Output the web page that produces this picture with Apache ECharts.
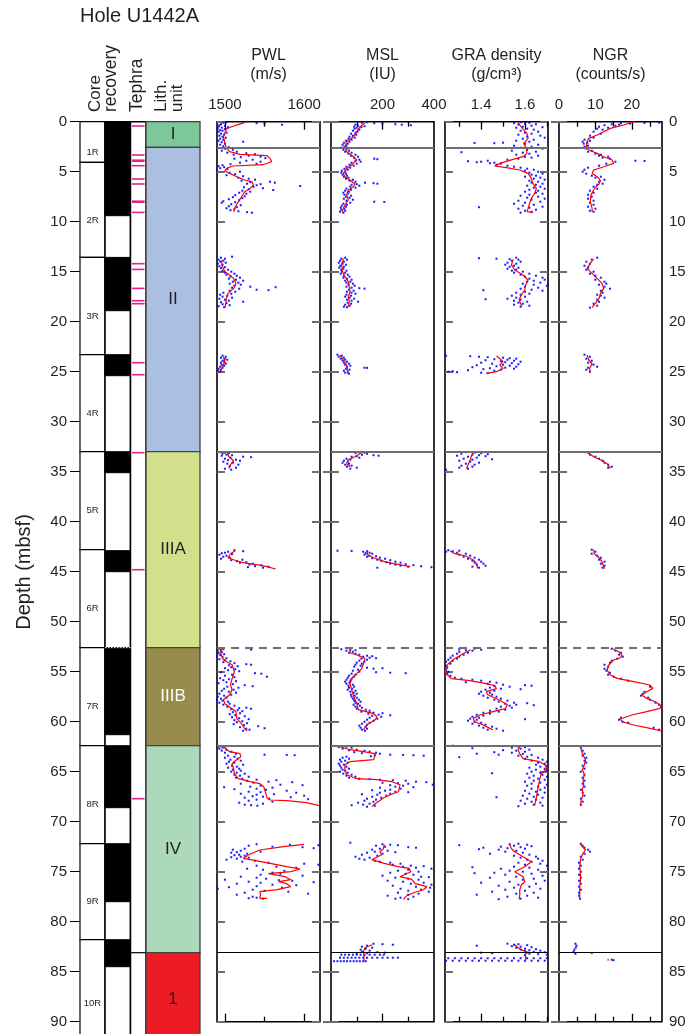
<!DOCTYPE html>
<html><head><meta charset="utf-8">
<script src="https://cdn.jsdelivr.net/npm/echarts@6/dist/echarts.min.js"></script>
<style>html,body{margin:0;padding:0;background:#fff}#c{width:700px;height:1034px}</style>
</head><body><div id="c"></div>
<script>
// ---------------- DATA ----------------
const depthTicks = [0,5,10,15,20,25,30,35,40,45,50,55,60,65,70,75,80,85,90];
const coreNames = ['1R','2R','3R','4R','5R','6R','7R','8R','9R','10R'];
const coreTop = [0,4.07,13.57,23.3,33.0,42.8,52.6,62.4,72.2,81.8];
const coreBottom = [4.07,13.57,23.3,33.0,42.8,52.6,62.4,72.2,81.8,92.5];
const recoveredTop = [0,4.07,13.57,23.3,33.0,42.9,52.6,62.4,72.2,81.8];
const recoveredBottom = [4.07,9.4,18.9,25.4,35.1,45.0,61.3,68.6,78.0,84.5];
const tephraDepths = [0.43,3.33,3.85,3.95,4.4,5.73,6.23,7.95,8.05,9.07,14.2,14.77,16.67,17.9,18.2,24.1,25.3,33.1,44.8,67.7];
const lithNames = ['I','II','IIIA','IIIB','IV','1'];
const lithTop = [0,2.57,33.0,52.6,62.4,83.1];
const lithBottom = [2.57,33.0,52.6,62.4,83.1,92.5];

const pwlLabels = [1500,1600], pwlMajor = [1500,1600], pwlMinor = [1550];
const mslLabels = [200,400], mslMajor = [200], mslMinor = [100,300];
const graLabels = [1.4,1.6], graMajor = [1.4,1.6], graMinor = [1.3,1.5,1.7];
const ngrLabels = [0,10,20], ngrMajor = [10,20], ngrMinor = [5,15,25];

// [depth, value]
const pwlLine = [
 [[0.1,1525],[0.4,1512],[0.7,1502],[1.5,1498],[2.17,1500],[2.67,1502],[3.0,1506],[3.27,1519],[3.4,1553],[3.67,1557],[4.0,1559],[4.3,1548],[4.43,1510],[4.67,1502],[4.9,1500],[5.17,1506],[5.5,1515],[5.83,1525],[6.0,1534],[6.33,1536],[6.67,1532],[7.0,1525],[7.5,1521],[8.0,1517],[8.5,1513],[9.0,1511]],
 [[13.83,1496],[14.33,1496],[15.0,1500],[15.33,1506],[15.67,1511],[16.17,1514],[16.67,1511],[17.17,1504],[17.67,1502],[18.17,1501],[18.57,1500]],
 [[23.5,1498],[24.0,1500],[24.5,1497],[24.93,1494]],
 [[33.07,1503],[33.5,1505],[33.9,1511],[34.3,1507],[34.7,1505]],
 [[42.9,1513],[43.2,1507],[43.6,1504],[43.8,1511],[44.1,1523],[44.3,1540],[44.5,1553],[44.73,1564]],
 [[52.7,1494],[53.2,1495],[53.8,1498],[54.3,1509],[55.0,1512],[55.7,1509],[56.3,1507],[56.8,1509],[57.3,1506],[57.8,1498],[58.2,1500],[58.7,1509],[59.0,1514],[59.7,1515],[60.2,1521],[60.7,1525],[60.9,1528]],
 [[62.5,1498],[63.0,1506],[63.2,1519],[63.5,1520],[63.9,1513],[64.2,1509],[64.7,1511],[65.2,1512],[65.7,1517],[66.0,1532],[66.2,1544],[66.5,1549],[67.0,1551],[67.6,1553],[67.83,1557],[67.9,1578],[68.1,1603],[68.4,1619]],
 [[72.27,1600],[72.5,1574],[72.83,1544],[73.3,1530],[73.67,1523],[73.8,1532],[74.17,1557],[74.5,1578],[74.73,1595],[75.0,1583],[75.2,1555],[75.3,1553],[75.5,1576],[75.8,1583],[76.0,1568],[76.2,1578],[76.5,1583],[76.8,1566],[77.0,1544],[77.3,1545],[77.67,1544],[77.67,1553]]
];
const pwlDots = [
 [0.05,1502],[0.1,1498],[0.15,1540],[0.2,1550],[0.25,1495],[0.3,1572],[0.35,1493],[0.4,1500],[0.5,1492],[0.55,1504],[0.6,1496],[0.7,1491],[0.75,1500],[0.85,1494],[0.9,1497],[1.0,1492],[1.1,1502],[1.2,1495],[1.3,1499],[1.4,1493],[1.5,1497],[1.6,1501],[1.7,1494],[1.8,1498],[1.9,1492],[2.0,1523],[2.05,1496],[2.2,1500],[2.3,1494],[2.45,1498],[2.55,1505],[2.7,1500],[2.8,1510],[2.9,1496],[3.0,1515],[3.1,1503],[3.15,1527],[3.25,1538],[3.3,1511],[3.4,1530],[3.5,1545],[3.55,1520],[3.65,1551],[3.7,1512],[3.8,1535],[3.9,1527],[4.0,1545],[4.1,1519],[4.2,1540],[4.25,1507],[4.35,1497],[4.45,1492],[4.55,1499],[4.65,1494],[4.75,1503],[4.85,1490],[5.0,1519],[5.1,1506],[5.25,1513],[5.35,1502],[5.45,1523],[5.6,1517],[5.7,1530],[5.8,1538],[5.9,1521],[6.0,1557],[6.05,1532],[6.1,1563],[6.2,1528],[6.25,1545],[6.35,1540],[6.43,1595],[6.5,1536],[6.55,1524],[6.65,1548],[6.75,1530],[6.83,1561],[6.9,1522],[7.0,1532],[7.1,1518],[7.2,1527],[7.35,1513],[7.45,1525],[7.55,1510],[7.65,1522],[7.75,1505],[7.85,1518],[7.95,1498],[8.05,1513],[8.1,1496],[8.25,1508],[8.35,1520],[8.45,1505],[8.55,1515],[8.65,1502],[8.75,1512],[8.85,1507],[8.95,1517],[9.05,1528],[9.1,1534],
 [13.5,1509],[13.6,1495],[13.7,1500],[13.8,1492],[13.9,1498],[14.0,1494],[14.1,1501],[14.2,1491],[14.3,1497],[14.45,1493],[14.55,1500],[14.65,1495],[14.8,1504],[14.9,1497],[15.0,1508],[15.1,1500],[15.2,1512],[15.3,1502],[15.4,1515],[15.5,1507],[15.6,1519],[15.7,1505],[15.8,1514],[15.9,1523],[16.0,1510],[16.1,1517],[16.2,1506],[16.3,1520],[16.4,1512],[16.5,1532],[16.55,1564],[16.6,1509],[16.7,1518],[16.8,1540],[16.85,1555],[16.9,1506],[17.0,1513],[17.1,1498],[17.2,1508],[17.3,1494],[17.4,1503],[17.5,1497],[17.6,1509],[17.7,1493],[17.8,1500],[17.9,1505],[18.0,1523],[18.05,1495],[18.15,1502],[18.25,1497],[18.35,1506],[18.45,1492],[18.55,1499],
 [23.4,1497],[23.5,1501],[23.6,1495],[23.7,1500],[23.8,1503],[23.9,1497],[24.0,1499],[24.1,1495],[24.2,1501],[24.3,1496],[24.4,1499],[24.5,1494],[24.6,1497],[24.7,1492],[24.8,1495],[24.9,1491],[25.0,1494],
 [33.05,1494],[33.1,1500],[33.15,1505],[33.2,1497],[33.3,1502],[33.35,1509],[33.4,1496],[33.5,1523],[33.55,1533],[33.6,1507],[33.7,1500],[33.8,1514],[33.85,1504],[33.9,1519],[34.0,1498],[34.1,1510],[34.2,1503],[34.3,1517],[34.45,1506],[34.6,1514],[34.7,1500],[34.8,1508],
 [42.85,1512],[42.95,1523],[43.0,1504],[43.1,1500],[43.15,1496],[43.25,1509],[43.3,1493],[43.4,1502],[43.5,1498],[43.6,1506],[43.7,1495],[43.8,1522],[43.85,1508],[43.95,1515],[44.05,1527],[44.1,1519],[44.2,1535],[44.3,1531],[44.35,1546],[44.45,1538],[44.5,1555],[44.55,1529],[44.6,1548],
 [52.7,1492],[52.75,1498],[52.8,1533],[52.85,1495],[52.95,1491],[53.05,1496],[53.15,1492],[53.25,1499],[53.35,1494],[53.45,1490],[53.55,1497],[53.65,1502],[53.75,1493],[53.85,1500],[53.95,1507],[54.05,1498],[54.15,1512],[54.25,1527],[54.3,1533],[54.35,1505],[54.45,1516],[54.55,1508],[54.65,1500],[54.75,1513],[54.85,1504],[54.95,1518],[55.05,1495],[55.15,1538],[55.2,1546],[55.3,1509],[55.4,1500],[55.5,1553],[55.55,1512],[55.65,1494],[55.75,1505],[55.85,1498],[55.95,1514],[56.05,1502],[56.15,1492],[56.25,1510],[56.35,1525],[56.45,1535],[56.5,1503],[56.6,1517],[56.7,1499],[56.8,1511],[56.9,1496],[57.0,1505],[57.1,1514],[57.2,1493],[57.3,1508],[57.4,1499],[57.5,1491],[57.6,1502],[57.7,1495],[57.8,1490],[57.9,1497],[58.0,1504],[58.1,1493],[58.2,1506],[58.3,1498],[58.4,1512],[58.5,1503],[58.6,1527],[58.65,1518],[58.7,1533],[58.75,1508],[58.85,1516],[58.95,1522],[59.05,1510],[59.15,1519],[59.25,1506],[59.35,1513],[59.45,1525],[59.55,1509],[59.65,1518],[59.75,1530],[59.85,1512],[59.95,1522],[60.05,1515],[60.15,1528],[60.25,1511],[60.35,1524],[60.45,1542],[60.55,1519],[60.65,1550],[60.7,1527],[60.8,1531],[60.9,1523],
 [62.45,1494],[62.5,1500],[62.55,1491],[62.6,1497],[62.7,1493],[62.8,1502],[62.9,1496],[63.0,1508],[63.1,1500],[63.2,1514],[63.3,1550],[63.32,1578],[63.35,1588],[63.4,1504],[63.5,1512],[63.6,1500],[63.7,1516],[63.8,1507],[63.9,1520],[64.0,1505],[64.1,1512],[64.2,1502],[64.3,1523],[64.4,1509],[64.5,1515],[64.6,1504],[64.7,1518],[64.8,1510],[64.9,1520],[65.0,1508],[65.1,1515],[65.2,1525],[65.3,1512],[65.4,1519],[65.5,1530],[65.6,1514],[65.7,1522],[65.8,1540],[65.85,1565],[65.9,1528],[66.0,1555],[66.05,1585],[66.1,1536],[66.2,1520],[66.3,1570],[66.35,1598],[66.4,1545],[66.5,1532],[66.55,1499],[66.6,1560],[66.7,1540],[66.75,1512],[66.8,1552],[66.9,1578],[67.0,1530],[67.05,1545],[67.1,1590],[67.2,1520],[67.25,1562],[67.3,1540],[67.4,1600],[67.45,1535],[67.5,1548],[67.55,1583],[67.6,1525],[67.7,1556],[67.75,1605],[67.8,1540],[67.9,1530],[68.0,1560],[68.1,1518],[68.2,1548],[68.3,1525],[68.35,1533],[68.4,1541],
 [72.25,1540],[72.3,1582],[72.35,1618],[72.4,1530],[72.5,1560],[72.55,1598],[72.65,1612],[72.7,1525],[72.8,1510],[72.9,1520],[73.0,1545],[73.05,1515],[73.1,1508],[73.2,1528],[73.3,1518],[73.35,1512],[73.4,1525],[73.5,1520],[73.55,1508],[73.6,1530],[73.7,1515],[73.8,1502],[73.9,1538],[74.0,1522],[74.1,1555],[74.2,1600],[74.3,1618],[74.4,1540],[74.5,1565],[74.6,1590],[74.7,1528],[74.8,1548],[74.9,1575],[75.1,1560],[75.2,1570],[75.3,1545],[75.4,1598],[75.5,1520],[75.6,1540],[75.7,1552],[75.8,1500],[75.85,1568],[75.9,1585],[76.0,1530],[76.05,1612],[76.1,1545],[76.2,1515],[76.3,1560],[76.35,1590],[76.45,1540],[76.55,1505],[76.6,1572],[76.7,1491],[76.8,1535],[76.9,1550],[77.0,1580],[77.1,1525],[77.2,1605],[77.3,1515],[77.5,1535],[77.6,1540],[77.65,1530],[77.7,1548]
];

const mslLine = [
 [[0.1,132],[0.5,113],[1.0,100],[1.5,87],[2.0,61],[2.5,54],[3.0,61],[3.5,87],[3.83,100],[4.17,87],[4.67,61],[5.17,48],[5.5,54],[5.83,74],[6.23,93],[6.5,87],[6.83,67],[7.33,61],[7.83,67],[8.33,54],[8.83,45],[9.1,45]],
 [[13.67,48],[14.33,41],[15.0,45],[15.5,54],[16.0,67],[16.5,71],[17.0,74],[17.5,67],[18.0,71],[18.5,67]],
 [[23.33,35],[23.83,48],[24.33,61],[24.83,64],[25.2,65]],
 [[33.07,119],[33.5,93],[33.8,67],[34.2,61],[34.5,74]],
 [[42.97,140],[43.3,142],[43.6,166],[43.97,205],[44.2,244],[44.5,307]],
 [[52.8,74],[53.1,74],[53.33,100],[53.67,132],[54.2,126],[54.7,119],[55.2,100],[55.7,80],[56.2,74],[56.8,80],[57.5,89],[58.2,100],[58.8,106],[59.2,166],[59.5,178],[59.8,172],[60.3,140],[60.8,126]],
 [[62.5,35],[62.8,74],[63.0,126],[63.2,172],[63.8,166],[64.0,74],[64.3,54],[64.8,54],[65.3,61],[65.7,100],[65.8,178],[66.0,236],[66.3,268],[67.0,262],[67.3,230],[67.6,205],[68.3,166],[68.5,159]],
 [[72.27,207],[72.7,203],[73.0,190],[73.3,197],[73.8,158],[74.17,207],[74.5,259],[74.67,304],[75.0,310],[75.5,268],[75.77,314],[76.2,327],[76.5,372],[76.8,359],[77.1,320],[77.4,294],[77.8,281]],
 [[82.3,159],[82.6,132],[82.97,126],[83.3,128],[83.63,128],[84.0,128]]
];
const mslDots = [
 [0.05,140],[0.1,120],[0.15,168],[0.2,200],[0.25,250],[0.3,275],[0.35,310],[0.3,95],[0.4,105],[0.45,130],[0.5,90],[0.55,118],[0.6,100],[0.7,92],[0.8,110],[0.9,85],[1.0,103],[1.1,95],[1.2,78],[1.3,98],[1.4,85],[1.5,72],[1.6,92],[1.7,68],[1.8,80],[1.9,58],[2.0,72],[2.1,50],[2.2,65],[2.3,45],[2.4,60],[2.5,52],[2.6,40],[2.7,62],[2.8,48],[2.9,70],[3.0,55],[3.1,80],[3.2,68],[3.3,95],[3.4,78],[3.5,105],[3.6,90],[3.7,168],[3.75,180],[3.8,110],[3.9,95],[4.0,115],[4.1,80],[4.2,100],[4.3,72],[4.4,88],[4.5,60],[4.6,75],[4.7,52],[4.8,65],[4.9,42],[5.0,55],[5.1,40],[5.2,58],[5.3,45],[5.4,62],[5.5,50],[5.6,68],[5.7,58],[5.8,85],[5.9,72],[6.0,95],[6.1,132],[6.15,165],[6.2,180],[6.25,100],[6.3,80],[6.4,110],[6.5,75],[6.6,95],[6.7,60],[6.8,78],[6.9,55],[7.0,70],[7.1,48],[7.2,65],[7.3,52],[7.4,78],[7.5,58],[7.6,72],[7.7,50],[7.8,85],[7.9,60],[8.0,168],[8.02,207],[8.1,75],[8.2,48],[8.3,62],[8.4,42],[8.5,58],[8.6,38],[8.7,52],[8.8,40],[8.9,55],[9.0,35],[9.1,48],
 [13.6,55],[13.7,40],[13.8,62],[13.9,35],[14.0,50],[14.1,30],[14.2,45],[14.3,58],[14.4,36],[14.5,50],[14.6,32],[14.7,48],[14.8,40],[14.9,60],[15.0,42],[15.1,55],[15.2,38],[15.3,65],[15.4,50],[15.5,72],[15.6,48],[15.7,62],[15.8,80],[15.9,55],[16.0,75],[16.1,60],[16.2,85],[16.3,68],[16.4,92],[16.5,60],[16.6,80],[16.65,110],[16.7,130],[16.8,70],[16.9,88],[17.0,62],[17.1,80],[17.2,95],[17.3,60],[17.4,78],[17.5,55],[17.6,72],[17.7,90],[17.8,62],[17.9,80],[18.0,105],[18.1,65],[18.2,78],[18.3,55],[18.4,72],[18.5,50],[18.55,62],
 [23.3,25],[23.4,42],[23.5,30],[23.6,50],[23.7,38],[23.8,55],[23.9,45],[24.0,62],[24.1,50],[24.2,70],[24.3,55],[24.4,75],[24.5,62],[24.6,130],[24.62,140],[24.7,58],[24.8,72],[24.9,50],[25.0,65],[25.1,55],[25.2,70],
 [33.05,110],[33.1,130],[33.15,95],[33.2,140],[33.3,120],[33.35,165],[33.4,185],[33.45,100],[33.5,80],[33.6,110],[33.7,60],[33.8,75],[33.9,50],[34.0,65],[34.1,45],[34.2,70],[34.3,55],[34.4,80],[34.5,62],[34.6,100],[34.7,75],
 [42.9,25],[42.92,80],[42.95,140],[43.0,125],[43.1,150],[43.15,135],[43.2,160],[43.3,130],[43.4,148],[43.45,175],[43.5,140],[43.6,190],[43.65,160],[43.7,210],[43.8,180],[43.85,230],[43.9,195],[44.0,250],[44.05,215],[44.1,270],[44.2,230],[44.25,290],[44.3,250],[44.35,320],[44.4,270],[44.45,350],[44.5,300],[44.55,390],[44.6,180],
 [52.75,40],[52.8,75],[52.85,95],[52.9,60],[53.0,85],[53.1,70],[53.2,95],[53.3,110],[53.4,140],[53.45,160],[53.5,125],[53.6,150],[53.65,175],[53.7,118],[53.8,140],[53.9,110],[54.0,130],[54.1,100],[54.2,120],[54.3,95],[54.4,115],[54.5,90],[54.6,140],[54.65,200],[54.7,165],[54.8,105],[54.9,85],[55.0,110],[55.05,175],[55.1,230],[55.15,290],[55.2,80],[55.3,95],[55.4,70],[55.5,88],[55.6,65],[55.7,80],[55.8,60],[55.9,75],[56.0,55],[56.1,72],[56.2,60],[56.3,85],[56.4,68],[56.5,90],[56.6,70],[56.7,82],[56.8,65],[56.9,95],[57.0,75],[57.1,88],[57.2,100],[57.3,78],[57.4,92],[57.5,80],[57.6,100],[57.7,85],[57.8,108],[57.9,90],[58.0,115],[58.1,95],[58.2,105],[58.3,88],[58.4,112],[58.5,95],[58.6,120],[58.7,100],[58.8,135],[58.9,150],[59.0,118],[59.1,165],[59.15,200],[59.2,145],[59.3,185],[59.35,230],[59.4,160],[59.5,195],[59.6,150],[59.7,180],[59.8,140],[59.9,165],[60.0,130],[60.1,150],[60.2,120],[60.3,140],[60.4,110],[60.5,135],[60.6,115],[60.7,140],[60.8,120],[60.9,132],
 [62.45,40],[62.5,60],[62.55,30],[62.6,80],[62.7,45],[62.8,100],[62.85,70],[62.9,130],[63.0,150],[63.05,90],[63.1,175],[63.15,120],[63.2,190],[63.3,230],[63.32,280],[63.35,320],[63.4,360],[63.37,170],[63.45,155],[63.5,60],[63.6,45],[63.7,70],[63.8,35],[63.9,55],[64.0,40],[64.1,65],[64.2,30],[64.3,50],[64.4,35],[64.5,60],[64.6,40],[64.7,70],[64.8,45],[64.9,55],[65.0,35],[65.1,65],[65.2,48],[65.3,80],[65.4,60],[65.5,95],[65.6,70],[65.7,110],[65.75,150],[65.8,190],[65.85,240],[65.9,290],[66.0,330],[66.05,370],[66.1,200],[66.15,260],[66.2,300],[66.3,395],[66.35,230],[66.4,280],[66.5,250],[66.55,320],[66.6,190],[66.7,270],[66.8,230],[66.85,160],[66.9,210],[67.0,250],[67.05,300],[67.1,190],[67.2,230],[67.25,120],[67.3,180],[67.4,215],[67.5,160],[67.6,195],[67.7,140],[67.8,175],[67.9,130],[68.0,165],[68.1,105],[68.2,150],[68.3,125],[68.35,80],[68.4,170],[68.5,140],
 [72.1,75],[72.25,200],[72.3,230],[72.35,260],[72.4,175],[72.5,210],[72.55,300],[72.6,330],[72.7,190],[72.8,160],[72.9,220],[73.0,170],[73.05,250],[73.1,140],[73.2,200],[73.3,120],[73.4,180],[73.5,95],[73.6,150],[73.7,110],[73.8,130],[73.9,170],[74.0,190],[74.1,230],[74.2,270],[74.3,240],[74.4,310],[74.45,360],[74.5,280],[74.6,330],[74.7,390],[74.8,300],[74.9,260],[75.0,340],[75.1,230],[75.2,290],[75.3,320],[75.4,200],[75.5,350],[75.55,380],[75.6,250],[75.7,300],[75.8,340],[75.9,220],[76.0,280],[76.1,360],[76.2,310],[76.3,390],[76.4,240],[76.5,330],[76.6,385],[76.7,270],[76.8,350],[76.9,300],[77.0,380],[77.1,260],[77.2,340],[77.3,300],[77.4,220],[77.5,320],[77.6,270],[77.7,250],[77.75,300],
 [82.2,165],[82.25,200],[82.3,240],[82.4,140],[82.5,120],[82.6,160],[82.7,135],[82.8,115],[82.9,150],[83.0,120],[83.05,180],[83.1,210],[83.15,140],[83.2,100],
 [83.3,40],[83.3,55],[83.3,70],[83.3,85],[83.3,100],[83.3,115],[83.3,130],[83.3,150],[83.3,170],[83.3,190],[83.3,205],
 [83.6,35],[83.6,50],[83.6,65],[83.6,80],[83.6,95],[83.6,110],[83.6,125],[83.6,140],[83.6,160],[83.6,180],[83.6,200],[83.6,220],[83.6,240],[83.6,260],
 [83.95,12],[83.95,25],[83.95,38],[83.95,50],[83.95,62],[83.95,75],[83.95,88],[83.95,100],[83.95,112],[83.95,125],[83.95,135]
];

const graLine = [
 [[0.1,1.568],[0.67,1.588],[1.17,1.609],[1.67,1.614],[2.17,1.594],[2.67,1.606],[3.17,1.609],[3.5,1.591],[3.77,1.546],[4.17,1.485],[4.43,1.462],[4.6,1.515],[4.83,1.576],[5.17,1.614],[5.67,1.629],[6.17,1.636],[6.67,1.652],[7.17,1.644],[7.67,1.629],[8.17,1.621],[8.67,1.614],[9.0,1.609],[9.1,1.636]],
 [[13.77,1.546],[14.33,1.538],[14.83,1.553],[15.33,1.591],[15.83,1.614],[16.33,1.603],[16.83,1.599],[17.33,1.583],[17.83,1.573],[18.33,1.583],[18.5,1.585]],
 [[23.43,1.47],[23.67,1.485],[24.0,1.50],[24.33,1.485],[24.67,1.50],[25.0,1.47],[25.17,1.424]],
 [[33.1,1.364],[33.4,1.356],[33.8,1.35],[34.3,1.34],[34.7,1.333]],
 [[42.93,1.258],[43.2,1.28],[43.43,1.33],[43.83,1.364],[44.2,1.38],[44.67,1.383]],
 [[52.8,1.351],[53.2,1.318],[53.67,1.28],[54.2,1.25],[54.7,1.237],[55.2,1.24],[55.7,1.265],[55.9,1.348],[56.2,1.424],[56.4,1.462],[56.7,1.47],[57.0,1.424],[57.3,1.43],[57.8,1.48],[58.3,1.52],[58.7,1.51],[59.0,1.454],[59.33,1.394],[59.67,1.364],[60.0,1.37],[60.33,1.41],[60.67,1.44],[60.8,1.454]],
 [[62.5,1.576],[62.8,1.568],[63.2,1.576],[63.7,1.591],[64.0,1.667],[64.3,1.69],[64.7,1.70],[65.2,1.674],[65.8,1.667],[66.5,1.66],[67.2,1.655],[67.8,1.65],[68.4,1.644]],
 [[72.27,1.53],[72.7,1.538],[73.0,1.553],[73.5,1.591],[74.0,1.629],[74.5,1.599],[75.0,1.553],[75.2,1.561],[75.5,1.591],[76.0,1.599],[76.33,1.583],[76.83,1.576],[77.33,1.576],[77.77,1.573]],
 [[82.3,1.553],[82.6,1.568],[82.97,1.599],[83.1,1.621],[83.15,1.603],[83.63,1.603],[84.0,1.603]]
];
const graDots = [
 [0.05,1.58],[0.1,1.62],[0.15,1.55],[0.2,1.60],[0.25,1.65],[0.3,1.57],[0.4,1.63],[0.5,1.59],[0.55,1.68],[0.6,1.56],[0.7,1.61],[0.8,1.64],[0.9,1.58],[1.0,1.66],[1.1,1.60],[1.2,1.63],[1.3,1.57],[1.4,1.67],[1.5,1.61],[1.6,1.69],[1.7,1.59],[1.8,1.64],[1.9,1.56],[2.0,1.62],[2.1,1.50],[2.12,1.37],[2.15,1.46],[2.2,1.60],[2.3,1.66],[2.4,1.55],[2.5,1.63],[2.6,1.58],[2.7,1.68],[2.8,1.61],[2.9,1.54],[3.0,1.65],[3.05,1.31],[3.1,1.59],[3.2,1.62],[3.3,1.56],[3.4,1.66],[3.5,1.60],[3.6,1.63],[3.7,1.57],[3.8,1.52],[3.9,1.43],[3.95,1.34],[4.0,1.40],[4.05,1.38],[4.1,1.46],[4.15,1.44],[4.2,1.49],[4.3,1.47],[4.4,1.52],[4.5,1.55],[4.6,1.58],[4.7,1.61],[4.8,1.64],[4.9,1.60],[5.0,1.66],[5.1,1.62],[5.2,1.68],[5.3,1.63],[5.4,1.65],[5.5,1.60],[5.6,1.67],[5.7,1.64],[5.8,1.69],[5.9,1.62],[6.0,1.66],[6.1,1.63],[6.2,1.68],[6.3,1.65],[6.4,1.61],[6.5,1.67],[6.6,1.64],[6.7,1.69],[6.8,1.62],[6.9,1.66],[7.0,1.60],[7.1,1.65],[7.2,1.68],[7.3,1.62],[7.4,1.58],[7.5,1.66],[7.6,1.61],[7.7,1.69],[7.8,1.63],[7.9,1.57],[8.0,1.67],[8.1,1.60],[8.2,1.55],[8.3,1.64],[8.4,1.59],[8.5,1.68],[8.55,1.39],[8.6,1.62],[8.7,1.57],[8.8,1.65],[8.9,1.60],[9.0,1.63],[9.1,1.58],
 [13.6,1.56],[13.65,1.39],[13.7,1.47],[13.75,1.53],[13.8,1.57],[13.9,1.54],[14.0,1.58],[14.1,1.52],[14.2,1.56],[14.3,1.51],[14.4,1.55],[14.5,1.53],[14.6,1.57],[14.7,1.52],[14.8,1.56],[14.9,1.54],[15.0,1.59],[15.1,1.55],[15.2,1.62],[15.3,1.58],[15.4,1.65],[15.5,1.60],[15.6,1.68],[15.7,1.62],[15.8,1.69],[15.9,1.64],[16.0,1.61],[16.1,1.67],[16.2,1.59],[16.3,1.64],[16.4,1.70],[16.5,1.60],[16.6,1.66],[16.7,1.58],[16.8,1.63],[16.85,1.41],[16.9,1.68],[17.0,1.60],[17.1,1.56],[17.2,1.62],[17.3,1.58],[17.4,1.54],[17.5,1.60],[17.6,1.56],[17.7,1.52],[17.75,1.42],[17.8,1.58],[17.9,1.55],[18.0,1.61],[18.1,1.57],[18.2,1.59],[18.3,1.55],[18.4,1.62],[18.5,1.58],
 [23.4,1.24],[23.45,1.35],[23.5,1.39],[23.55,1.43],[23.6,1.50],[23.65,1.53],[23.7,1.56],[23.75,1.46],[23.8,1.52],[23.85,1.42],[23.9,1.55],[23.95,1.49],[24.0,1.58],[24.05,1.51],[24.1,1.40],[24.15,1.54],[24.2,1.45],[24.25,1.57],[24.3,1.50],[24.35,1.38],[24.4,1.53],[24.45,1.47],[24.5,1.56],[24.55,1.36],[24.6,1.51],[24.65,1.44],[24.7,1.55],[24.75,1.41],[24.8,1.49],[24.85,1.34],[24.9,1.46],[24.95,1.27],[25.0,1.25],[25.05,1.29],[25.1,1.40],[25.15,1.43],
 [33.05,1.33],[33.1,1.37],[33.15,1.40],[33.2,1.31],[33.25,1.43],[33.3,1.36],[33.35,1.39],[33.4,1.29],[33.45,1.42],[33.5,1.34],[33.6,1.38],[33.7,1.32],[33.75,1.45],[33.8,1.36],[33.9,1.30],[34.0,1.35],[34.1,1.39],[34.2,1.33],[34.3,1.37],[34.4,1.31],[34.5,1.36],[34.6,1.30],[34.7,1.34],[34.8,1.24],
 [42.85,1.25],[42.9,1.30],[42.95,1.27],[43.0,1.24],[43.1,1.29],[43.2,1.33],[43.3,1.30],[43.4,1.35],[43.5,1.32],[43.6,1.37],[43.7,1.34],[43.8,1.39],[43.9,1.36],[44.0,1.40],[44.1,1.37],[44.2,1.41],[44.3,1.38],[44.4,1.42],[44.5,1.36],[44.6,1.39],
 [52.7,1.37],[52.75,1.30],[52.8,1.40],[52.85,1.33],[52.9,1.36],[53.0,1.30],[53.1,1.34],[53.2,1.29],[53.3,1.32],[53.4,1.27],[53.5,1.30],[53.6,1.26],[53.7,1.29],[53.8,1.25],[53.9,1.27],[54.0,1.24],[54.2,1.26],[54.4,1.24],[54.6,1.245],[54.8,1.24],[55.0,1.25],[55.2,1.245],[55.4,1.26],[55.6,1.28],[55.7,1.31],[55.8,1.36],[55.9,1.40],[56.0,1.44],[56.05,1.33],[56.1,1.47],[56.2,1.43],[56.3,1.50],[56.35,1.60],[56.4,1.63],[56.45,1.46],[56.5,1.53],[56.6,1.44],[56.7,1.49],[56.75,1.58],[56.8,1.42],[56.9,1.46],[57.0,1.40],[57.1,1.44],[57.2,1.39],[57.3,1.45],[57.4,1.41],[57.5,1.47],[57.6,1.43],[57.7,1.49],[57.8,1.46],[57.9,1.52],[58.0,1.48],[58.1,1.55],[58.15,1.61],[58.2,1.51],[58.3,1.56],[58.35,1.64],[58.4,1.53],[58.5,1.49],[58.6,1.54],[58.7,1.47],[58.8,1.51],[58.9,1.44],[59.0,1.48],[59.1,1.41],[59.2,1.44],[59.3,1.38],[59.4,1.41],[59.5,1.36],[59.6,1.39],[59.7,1.35],[59.75,1.60],[59.8,1.38],[59.9,1.34],[60.0,1.37],[60.1,1.40],[60.2,1.36],[60.3,1.42],[60.4,1.39],[60.5,1.45],[60.6,1.41],[60.7,1.47],[60.8,1.43],[60.9,1.50],
 [62.4,1.27],[62.45,1.42],[62.5,1.57],[62.55,1.60],[62.6,1.54],[62.65,1.36],[62.7,1.58],[62.8,1.62],[62.85,1.50],[62.9,1.56],[63.0,1.60],[63.05,1.46],[63.1,1.54],[63.2,1.38],[63.22,1.59],[63.3,1.48],[63.32,1.63],[63.4,1.57],[63.5,1.61],[63.55,1.30],[63.6,1.66],[63.7,1.60],[63.8,1.68],[63.9,1.63],[64.0,1.70],[64.1,1.66],[64.2,1.69],[64.3,1.65],[64.4,1.70],[64.5,1.67],[64.6,1.62],[64.7,1.69],[64.8,1.65],[64.9,1.70],[65.0,1.63],[65.1,1.67],[65.15,1.45],[65.2,1.61],[65.3,1.68],[65.4,1.64],[65.5,1.70],[65.6,1.62],[65.7,1.66],[65.8,1.69],[65.9,1.64],[66.0,1.60],[66.1,1.67],[66.2,1.63],[66.3,1.70],[66.4,1.61],[66.5,1.66],[66.6,1.69],[66.7,1.63],[66.8,1.67],[66.9,1.60],[67.0,1.65],[67.1,1.69],[67.2,1.62],[67.3,1.66],[67.4,1.59],[67.5,1.64],[67.55,1.47],[67.6,1.68],[67.7,1.61],[67.8,1.65],[67.9,1.58],[68.0,1.63],[68.1,1.67],[68.2,1.60],[68.3,1.64],[68.4,1.68],[68.45,1.57],
 [72.2,1.57],[72.25,1.53],[72.3,1.61],[72.35,1.30],[72.4,1.55],[72.45,1.63],[72.5,1.49],[72.55,1.58],[72.6,1.41],[72.65,1.52],[72.7,1.60],[72.75,1.39],[72.8,1.48],[72.9,1.56],[73.0,1.51],[73.1,1.59],[73.2,1.44],[73.3,1.62],[73.4,1.55],[73.5,1.65],[73.6,1.58],[73.7,1.66],[73.8,1.61],[73.9,1.68],[74.0,1.63],[74.1,1.57],[74.2,1.67],[74.3,1.60],[74.4,1.70],[74.5,1.55],[74.55,1.36],[74.6,1.62],[74.7,1.49],[74.8,1.66],[74.9,1.53],[75.0,1.59],[75.1,1.46],[75.15,1.37],[75.2,1.63],[75.3,1.51],[75.4,1.68],[75.5,1.56],[75.6,1.44],[75.7,1.64],[75.8,1.59],[75.9,1.69],[76.0,1.53],[76.1,1.40],[76.2,1.65],[76.3,1.57],[76.4,1.48],[76.5,1.62],[76.6,1.55],[76.7,1.67],[76.8,1.51],[76.9,1.60],[77.0,1.45],[77.1,1.64],[77.2,1.56],[77.3,1.38],[77.4,1.61],[77.5,1.52],[77.6,1.66],[77.7,1.58],[77.75,1.48],
 [82.2,1.52],[82.25,1.57],[82.3,1.55],[82.35,1.61],[82.4,1.38],[82.45,1.54],[82.5,1.58],[82.55,1.63],[82.6,1.56],[82.7,1.60],[82.75,1.65],[82.8,1.58],[82.85,1.62],[82.9,1.67],[82.95,1.60],[83.0,1.64],[83.05,1.69],[83.1,1.40],[83.15,1.45],[83.2,1.62],[83.25,1.66],[83.3,1.70],[83.35,1.60],
 [83.65,1.25],[83.65,1.28],[83.65,1.31],[83.65,1.34],[83.65,1.37],[83.65,1.40],[83.65,1.43],[83.65,1.46],[83.65,1.49],[83.65,1.52],[83.65,1.55],[83.65,1.58],[83.65,1.61],[83.65,1.64],[83.65,1.67],[83.65,1.70],
 [83.9,1.24],[83.9,1.27],[83.9,1.30],[83.9,1.33],[83.9,1.36],[83.9,1.39],[83.9,1.42],[83.9,1.45],[83.9,1.48],[83.9,1.51],[83.9,1.54],[83.9,1.57],[83.9,1.60],[83.9,1.63],[83.9,1.66],[83.9,1.69]
];

const ngrLine = [
 [[0.0,20.8],[0.1,20.45],[0.33,17.7],[0.67,14.1],[1.0,12.3],[1.33,10.5],[1.67,8.2],[2.0,7.7],[2.5,7.5],[2.83,8.2],[3.17,10.5],[3.5,12.3],[3.83,14.6],[4.17,15.0],[4.5,12.3],[4.83,9.5],[5.17,9.1],[5.5,10.5],[5.9,11.4],[6.23,11.0],[6.57,10.0],[6.83,9.5],[7.33,8.8],[8.0,8.6],[8.67,9.1],[9.0,9.1]],
 [[13.73,9.5],[14.17,8.6],[14.67,7.7],[15.17,9.1],[15.67,10.5],[16.17,11.8],[16.67,12.3],[17.17,11.4],[17.67,11.0],[18.17,10.0],[18.57,9.1]],
 [[23.33,7.7],[23.83,8.2],[24.23,9.1],[24.67,8.4],[25.1,8.6]],
 [[33.0,7.7],[33.5,9.5],[33.8,11.4],[34.2,13.2],[34.65,14.1]],
 [[42.8,9.5],[43.2,9.7],[43.6,11.0],[44.0,11.8],[44.5,12.3],[44.7,12.5]],
 [[52.7,14.8],[53.0,16.4],[53.3,17.3],[53.6,16.9],[53.83,15.0],[54.33,13.7],[54.83,13.2],[55.33,14.1],[55.67,16.0],[56.0,20.5],[56.33,25.0],[56.67,25.8],[57.0,24.1],[57.33,22.7],[57.67,24.1],[58.0,26.4],[58.43,28.2],[58.67,27.7],[59.0,24.1],[59.33,20.0],[59.73,16.9],[60.0,17.3],[60.33,20.5],[60.67,25.0],[60.93,28.2]],
 [[62.5,5.9],[63.2,6.4],[63.8,7.3],[64.3,7.0],[64.8,6.4],[65.3,7.0],[65.8,6.6],[66.3,6.8],[66.8,6.4],[67.3,6.6],[67.8,6.1],[68.4,5.9]],
 [[72.2,5.9],[72.5,6.4],[72.8,7.3],[73.3,6.4],[73.8,5.9],[74.5,5.7],[75.2,5.9],[75.8,5.9],[76.5,5.7],[77.2,5.7],[77.77,5.7]],
 [[83.7,13.5],[83.9,13.5]]
];
const ngrDots = [
 [0.05,20.0],[0.1,27.5],[0.12,23.5],[0.15,17.0],[0.2,19.5],[0.25,14.5],[0.3,16.5],[0.35,12.5],[0.4,15.5],[0.5,11.0],[0.6,13.5],[0.7,10.5],[0.8,12.0],[1.0,9.5],[1.2,11.5],[1.4,8.5],[1.6,9.5],[1.8,7.0],[1.9,8.5],[2.0,6.5],[2.1,7.8],[2.2,6.8],[2.4,8.0],[2.5,7.0],[2.7,7.5],[2.9,9.0],[3.0,8.0],[3.2,10.0],[3.3,11.5],[3.4,11.0],[3.5,13.5],[3.6,12.0],[3.7,14.0],[3.9,21.0],[3.92,23.5],[4.0,15.5],[4.2,13.0],[4.4,11.0],[4.6,8.0],[4.8,7.0],[5.0,6.5],[5.2,7.5],[5.4,9.0],[5.5,11.5],[5.6,10.0],[5.8,12.5],[6.0,11.0],[6.2,12.0],[6.3,10.5],[6.5,9.5],[6.7,10.5],[6.9,8.5],[7.1,9.5],[7.3,8.0],[7.5,9.0],[7.7,8.0],[7.9,9.5],[8.1,8.5],[8.3,9.5],[8.5,8.0],[8.7,10.0],[8.9,8.5],[9.0,9.5],
 [13.6,10.5],[13.8,9.0],[14.0,7.5],[14.2,8.5],[14.4,7.0],[14.6,8.0],[14.8,7.5],[15.0,9.5],[15.2,8.5],[15.4,10.0],[15.6,11.5],[15.8,10.0],[16.0,12.5],[16.2,13.0],[16.3,11.0],[16.5,12.5],[16.7,14.0],[16.9,11.5],[17.1,12.0],[17.3,10.5],[17.4,11.5],[17.6,12.5],[17.8,10.5],[18.0,11.0],[18.2,9.5],[18.4,10.5],[18.6,8.5],
 [23.3,7.0],[23.5,8.5],[23.7,7.5],[23.9,9.0],[24.1,8.0],[24.3,9.5],[24.5,10.5],[24.6,8.0],[24.8,7.5],[25.0,8.5],
 [33.05,7.0],[33.1,8.0],[33.3,8.5],[33.5,10.0],[33.7,11.0],[33.9,12.0],[34.1,12.5],[34.3,13.5],[34.5,14.5],[34.6,13.5],
 [42.8,9.0],[43.0,10.0],[43.2,9.0],[43.4,10.5],[43.6,11.5],[43.8,11.0],[44.0,12.5],[44.2,11.5],[44.4,12.5],[44.6,12.0],
 [52.7,14.5],[52.9,15.5],[53.1,17.0],[53.3,16.5],[53.5,17.5],[53.7,16.0],[53.9,14.5],[54.1,14.0],[54.3,12.5],[54.5,13.5],[54.7,12.5],[54.9,13.0],[55.1,14.0],[55.3,13.5],[55.5,15.0],[55.7,17.0],[55.9,19.0],[56.5,25.0],[57.0,23.5],[57.2,23.0],[57.4,22.5],[57.6,24.5],[57.8,25.0],[58.1,26.5],[58.3,27.5],[58.5,28.0],[59.6,17.0],[59.8,16.5],[60.0,17.5],[60.1,19.0],[60.6,26.0],[60.8,27.5],
 [62.6,6.0],[62.9,6.5],[63.2,7.0],[63.4,6.5],[63.6,7.5],[63.9,7.0],[64.1,7.5],[64.4,6.5],[64.7,7.0],[65.0,6.0],[65.3,7.0],[65.6,6.5],[65.9,7.0],[66.2,6.5],[66.5,7.0],[66.8,6.0],[67.1,6.5],[67.4,7.0],[67.7,6.0],[68.0,6.5],[68.3,6.0],
 [72.2,6.0],[72.4,6.5],[72.6,7.0],[72.8,8.0],[73.0,8.5],[73.2,7.0],[73.5,6.0],[73.8,6.5],[74.1,5.5],[74.4,6.0],[74.7,5.5],[75.0,6.0],[75.3,5.5],[75.6,6.0],[75.9,5.5],[76.2,6.0],[76.5,5.5],[76.8,6.0],[77.1,5.5],[77.4,5.5],[77.7,5.8],
 [82.2,4.5],[82.4,4.8],[82.6,4.6],[82.8,4.2],[83.0,4.0],[83.2,4.5],[83.12,9.0],[83.8,14.5],[83.85,15.0]
];

// ---------------- STYLE / LAYOUT ----------------
const FONT = "'Liberation Sans', Arial, Helvetica, sans-serif";
const TXT = '#231f20';
const TOP = 121.7;
const PX_PER_M = 10;
const COL_H = 1034 - TOP;              // left columns run to the bottom edge
const COL_MAX = COL_H / PX_PER_M;      // same depth scale as the data panels
const lithColors = ['#7dc89b','#abbfe1','#d3e08b','#978c4e','#acd9b9','#ed1c24'];
const lithTextColors = [TXT,TXT,TXT,'#ffffff',TXT,TXT];
const colGrids = [[80,25],[105,25.5],[130.5,15.5],[146,54]];
const panelLeft = [217,331,445,559];
const PW = 103;
const plain = v => String(v);

const grid = [], xAxis = [], yAxis = [], series = [];
colGrids.forEach(([l,w],i)=>{
  grid.push({left:l, top:TOP, width:w, height:COL_H});
  xAxis.push({gridIndex:i, type:'value', min:0, max:1, show:false});
  yAxis.push({gridIndex:i, type:'value', inverse:true, min:0, max:COL_MAX, show:false});
});
yAxis[0] = {gridIndex:0, type:'value', inverse:true, min:0, max:COL_MAX, position:'left', show:true,
  axisLine:{show:false}, splitLine:{show:false},
  axisTick:{show:true, length:10, customValues:depthTicks, lineStyle:{color:'#000', width:1}},
  axisLabel:{customValues:depthTicks, fontSize:15, margin:13, color:TXT, fontFamily:FONT, formatter:plain}};

function rectShape(api, top, bottom){
  const p0 = api.coord([0, top]), p1 = api.coord([1, bottom]);
  return {x:p0[0], y:p0[1], width:p1[0]-p0[0], height:p1[1]-p0[1]};
}
function txt(x,y,text,size,color){
  return {type:'text', x:x, y:y, style:{text:text, fill:color, font:size+'px '+FONT,
    textAlign:'center', textVerticalAlign:'middle', align:'center', verticalAlign:'middle'}};
}
// core column
series.push({type:'custom', xAxisIndex:0, yAxisIndex:0, silent:true, clip:false,
  encode:{x:0, y:[1,2]},
  data: coreNames.map((n,i)=>[0, coreTop[i], coreBottom[i], i]),
  renderItem:(params, api)=>{
    const s = rectShape(api, api.value(1), api.value(2));
    const i = api.value(3);
    const mid = (coreTop[i]+coreBottom[i])/2;
    const c = api.coord([0.5, mid]);
    return {type:'group', children:[
      {type:'rect', shape:s, style:{fill:'#fff', stroke:'#000', lineWidth:1.2}},
      txt(c[0], c[1]+10, coreNames[i], 9.5, TXT)
    ]};
  }});
// recovery column
series.push({type:'custom', xAxisIndex:1, yAxisIndex:1, silent:true, clip:false,
  encode:{x:0, y:[1,2]}, data:[[0,0,COL_MAX+1,0]],
  renderItem:(params, api)=>({type:'rect', shape:rectShape(api, api.value(1), api.value(2)), style:{fill:'#fff', stroke:'#000', lineWidth:1.5}})});
series.push({type:'custom', xAxisIndex:1, yAxisIndex:1, silent:true, clip:false,
  encode:{x:0, y:[1,2]}, data: recoveredTop.map((t,i)=>[0, t, recoveredBottom[i], i]),
  renderItem:(params, api)=>({type:'rect', shape:rectShape(api, api.value(1), api.value(2)), style:{fill:'#000', stroke:'#000', lineWidth:1}})});
// tephra column
series.push({type:'custom', xAxisIndex:2, yAxisIndex:2, silent:true, clip:false,
  encode:{x:0, y:[1,2]}, data:[[0,0,COL_MAX+1,0]],
  renderItem:(params, api)=>({type:'rect', shape:rectShape(api, api.value(1), api.value(2)), style:{fill:'#fff', stroke:'#000', lineWidth:1.5}})});
series.push({type:'custom', xAxisIndex:2, yAxisIndex:2, silent:true,
  encode:{x:0, y:1}, data: tephraDepths.map((d,i)=>[0, d, i]),
  renderItem:(params, api)=>{
    const a = api.coord([0, api.value(1)]), b = api.coord([1, api.value(1)]);
    return {type:'line', shape:{x1:a[0]+1.5, y1:a[1], x2:b[0]-1.5, y2:b[1]}, style:{stroke:'#e6208a', lineWidth:1.6}};
  }});
// boundary lines across recovery + tephra columns
[1,2].forEach(g=>{
  series.push({type:'custom', xAxisIndex:g, yAxisIndex:g, silent:true, z:5,
    encode:{x:0, y:1}, data: [[0, lithTop[5], 0],[0, lithTop[3], 1]],
    renderItem:(params, api)=>{
      const a = api.coord([0, api.value(1)]), b = api.coord([1, api.value(1)]);
      const dotted = api.value(2) === 1;
      if (dotted && g===2) return null;
      return {type:'line', shape:{x1:a[0], y1:a[1], x2:b[0], y2:b[1]},
        style: dotted ? {stroke:'#fff', lineWidth:1, lineDash:[1.5,1.5]} : {stroke:'#000', lineWidth:1.2}};
    }});
});
// lithology column
series.push({type:'custom', xAxisIndex:3, yAxisIndex:3, silent:true, clip:false,
  encode:{x:0, y:[1,2]}, data: lithNames.map((n,i)=>[0, lithTop[i], lithBottom[i], i]),
  renderItem:(params, api)=>{
    const i = api.value(3);
    const s = rectShape(api, api.value(1), api.value(2));
    const c = api.coord([0.5, (lithTop[i]+lithBottom[i])/2]);
    return {type:'group', children:[
      {type:'rect', shape:s, style:{fill:lithColors[i], stroke:'#414042', lineWidth:1.3}},
      txt(c[0], c[1], lithNames[i], 17, lithTextColors[i])
    ]};
  }});

// data panels
const panels = [
 {min:1490, max:1620, labels:pwlLabels, major:pwlMajor, minor:pwlMinor, dots:pwlDots, line:pwlLine, title:['PWL','(m/s)']},
 {min:0, max:400, labels:mslLabels, major:mslMajor, minor:mslMinor, dots:mslDots, line:mslLine, title:['MSL','(IU)']},
 {min:1.235, max:1.705, labels:graLabels, major:graMajor, minor:graMinor, dots:graDots, line:graLine, title:['GRA density','(g/cm\u00b3)']},
 {min:0, max:28.3, labels:ngrLabels, major:ngrMajor, minor:ngrMinor, dots:ngrDots, line:ngrLine, title:['NGR','(counts/s)']}
];
const boundaryStyles = [
 null,
 {color:'#6d6e71', width:2, type:'solid'},
 {color:'#6d6e71', width:2, type:'solid'},
 {color:'#6d6e71', width:2, type:[8,6]},
 {color:'#6d6e71', width:2, type:'solid'},
 {color:'#000', width:1, type:'solid'}
];
const graphicTexts = [];
panels.forEach((p,k)=>{
  const g = 4+k;
  grid.push({left:panelLeft[k], top:TOP, width:PW, height:90*PX_PER_M, show:true, borderColor:'#000', borderWidth:1.6, backgroundColor:'transparent'});
  const base = {gridIndex:g, type:'value', min:p.min, max:p.max, axisLine:{show:false}, splitLine:{show:false}};
  const tk = (vals,len)=>({show:true, inside:true, length:len, customValues:vals, lineStyle:{color:'#000', width:1.3}});
  xAxis.push(Object.assign({}, base, {position:'top', axisTick:tk(p.major,8),
     axisLabel:{show:true, customValues:p.labels, fontSize:15, margin:9, color:TXT, fontFamily:FONT, formatter:plain}}));
  xAxis.push(Object.assign({}, base, {position:'top', axisTick:tk(p.minor,5), axisLabel:{show:false}}));
  xAxis.push(Object.assign({}, base, {position:'bottom', axisTick:tk(p.major,8), axisLabel:{show:false}}));
  xAxis.push(Object.assign({}, base, {position:'bottom', axisTick:tk(p.minor,5), axisLabel:{show:false}}));
  const yb = {gridIndex:g, type:'value', inverse:true, min:0, max:90, interval:5, axisLine:{show:false}, splitLine:{show:false},
    axisTick:{show:true, inside:true, length:8, lineStyle:{color:'#6d6e71', width:2}}};
  yAxis.push(Object.assign({}, yb, {position:'left', axisLabel:{show:false}}));
  yAxis.push(Object.assign({}, yb, {position:'right',
    axisLabel: k===3 ? {show:true, fontSize:15, margin:7, color:TXT, fontFamily:FONT, formatter:plain} : {show:false}}));
  const xi = 4 + k*4, yi = 4 + k*2;
  series.push({type:'scatter', xAxisIndex:xi, yAxisIndex:yi, silent:true, z:2,
    data: p.dots.map(d=>[d[1], d[0]]), symbol:'rect', symbolSize:2, itemStyle:{color:'#0000ff', opacity:0.9},
    markLine:{silent:true, symbol:['none','none'], label:{show:false}, animation:false,
      data: lithTop.slice(1).map((d,j)=>({yAxis:d, lineStyle:boundaryStyles[j+1]}))}});
  p.line.forEach(seg=>series.push({type:'line', xAxisIndex:xi, yAxisIndex:yi, silent:true, z:3,
    data: seg.map(d=>[d[1], d[0]]), showSymbol:false, symbol:'none',
    lineStyle:{color:'#ff0000', width:1.2}}));
  const cx = panelLeft[k] + PW/2;
  graphicTexts.push({type:'text', x:cx, y:56, style:{text:p.title[0], font:'16px '+FONT, fill:TXT, textAlign:'center', textVerticalAlign:'middle', align:'center', verticalAlign:'middle'}});
  graphicTexts.push({type:'text', x:cx, y:75, style:{text:p.title[1], font:'16px '+FONT, fill:TXT, textAlign:'center', textVerticalAlign:'middle', align:'center', verticalAlign:'middle'}});
});

function rotText(x,y,text,size,align){
  return {type:'text', x:x, y:y, rotation:Math.PI/2,
    style:{text:text, font:size+'px '+FONT, fill:TXT, textAlign:align, textVerticalAlign:'middle', align:align, verticalAlign:'middle'}};
}
graphicTexts.push({type:'text', x:80, y:16, style:{text:'Hole U1442A', font:'20px '+FONT, fill:TXT, textAlign:'left', textVerticalAlign:'middle', align:'left', verticalAlign:'middle'}});
graphicTexts.push(rotText(95,112,'Core',17,'left'));
graphicTexts.push(rotText(111,112,'recovery',17.5,'left'));
graphicTexts.push(rotText(137.5,112,'Tephra',17.5,'left'));
graphicTexts.push(rotText(161,112,'Lith.',17,'left'));
graphicTexts.push(rotText(177,112,'unit',17,'left'));
graphicTexts.push(rotText(24,572,'Depth (mbsf)',20,'center'));

const chart = echarts.init(document.getElementById('c'), null, {renderer:'canvas'});
chart.setOption({
  animation:false,
  backgroundColor:'#fff',
  textStyle:{fontFamily:FONT},
  grid, xAxis, yAxis, series,
  graphic: graphicTexts
});
</script></body></html>
